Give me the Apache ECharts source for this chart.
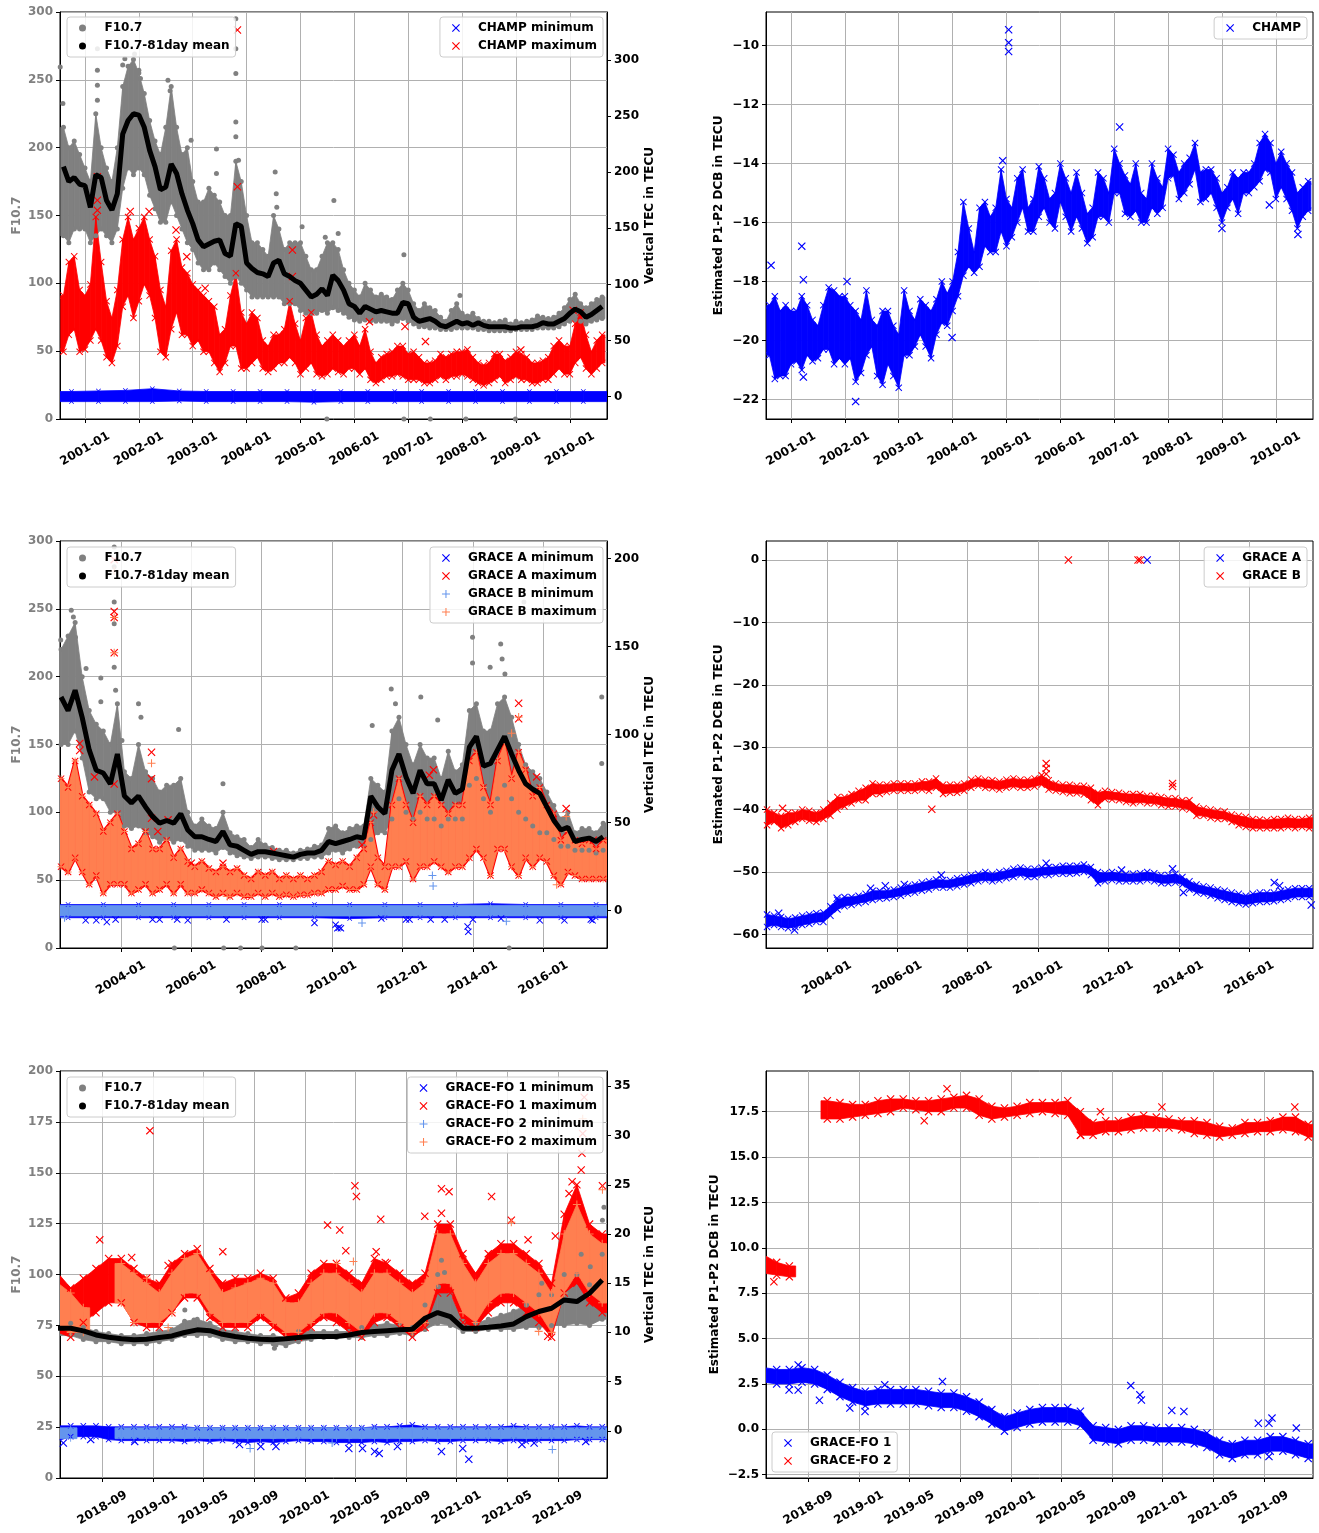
<!DOCTYPE html>
<html>
<head>
<meta charset="utf-8">
<script src="https://cdn.jsdelivr.net/npm/echarts@6/dist/echarts.min.js"></script>
<style>html,body{margin:0;padding:0;background:#fff}#c{width:1319px;height:1533px}</style>
</head>
<body>
<div id="c"></div>
<script>
// ---------------- tick labels ----------------
const CHAMP_XLABELS = ['2001-01','2002-01','2003-01','2004-01','2005-01','2006-01','2007-01','2008-01','2009-01','2010-01'];
const GRACE_XLABELS = ['2004-01','2006-01','2008-01','2010-01','2012-01','2014-01','2016-01'];
const FO_XLABELS = ['2018-09','2019-01','2019-05','2019-09','2020-01','2020-05','2020-09','2021-01','2021-05','2021-09'];
const TL_TEC_TICKS = [0,50,100,150,200,250,300];
const ML_TEC_TICKS = [0,50,100,150,200];
const BL_TEC_TICKS = [0,5,10,15,20,25,30,35];
const TR_TICKS = [-22,-20,-18,-16,-14,-12,-10];
const MR_TICKS = [-60,-50,-40,-30,-20,-10,0];
const BR_TICKS = [-2.5,0,2.5,5,7.5,10,12.5,15,17.5];

// ---------------- sampling (decimal years) ----------------
const CH_START = 2000.6, CH_STEP = 0.1;
const CH_MIN_START = 2000.75, CH_MIN_STEP = 0.5;
const GR_START = 2002.3, GR_STEP = 0.2;
const GR_MIN_START = 2002.5, GR_MIN_STEP = 1;
const FO_START = 2018 + 4.5/12, FO_STEP = 1/12;

// ================= CHAMP (top) =================
const CH_F107_LO = [135,130,140,140,
 140,130,135,140,135,130,140,170,185,180,
 185,180,165,155,145,145,160,150,140,130,
 125,115,110,110,115,110,105,100,105,100,
 95,90,90,90,90,90,90,85,85,85,
 80,78,78,78,80,78,82,80,78,75,
 73,72,73,72,72,72,72,70,72,74,
 72,70,68,68,67,67,66,66,66,67,
 67,67,67,66,66,65,65,65,65,65,
 66,66,66,66,67,67,67,67,68,70,
 72,73,72,70,72,73,74];
const CH_F107_HI = [215,200,205,195,
 185,175,225,200,185,175,200,245,260,265,
 255,240,220,205,195,215,245,215,195,200,
 175,160,160,170,165,160,150,150,190,175,
 150,130,130,125,120,150,140,125,130,130,
 130,120,110,110,120,130,130,125,110,100,
 95,90,100,95,90,92,90,88,95,100,
 95,85,80,85,82,80,75,72,80,85,
 78,76,78,74,72,72,71,72,73,70,
 72,71,72,73,76,75,74,75,78,82,
 88,92,85,82,85,88,90];
const CH_MEAN = [186,175,178,173,
 172,156,180,178,161,154,166,210,220,225,
 224,215,198,186,169,171,188,181,166,154,
 144,132,127,129,131,132,122,120,144,142,
 115,111,108,107,105,115,117,107,105,102,
 100,95,90,92,96,91,106,102,95,85,
 83,78,83,81,79,80,79,78,78,86,
 85,75,72,73,74,72,69,68,70,72,
 70,71,69,71,69,68,68,68,68,67,
 67,68,68,68,69,71,70,70,72,74,
 78,81,79,75,77,80,83];
const CH_F107_OUT = [[2000.54,259.5],[2000.59,232.5],[2001.23,273],[2001.23,257],[2001.23,246],[2001.23,235],
 [2001.7,261],[2001.74,265.6],[2001.92,269],[2002.0,257],[2002.03,251],[2002.54,249.7],[2002.58,242],
 [2002.97,205.5],[2003.44,199],[2003.44,181],[2003.8,295],[2003.8,273],[2003.8,254.6],[2003.8,219],
 [2003.8,208],[2003.85,190.8],[2004.53,182],[2004.55,166],[2004.56,156],[2005.03,141.7],[2005.46,134],
 [2005.62,161],[2005.7,136.8],[2006.92,121],[2007.96,91],[2005.49,0],[2006.92,0],[2007.41,0],[2008.07,0],[2008.99,0]];
const CH_MAX_LO = [40,55,60,40,
 42,50,60,50,35,30,45,80,90,70,
 85,100,90,70,40,35,60,75,55,55,
 45,50,40,40,30,22,30,45,45,25,
 25,30,35,25,22,25,30,30,35,30,
 20,25,30,20,18,20,25,22,20,25,
 25,20,25,15,12,15,18,18,20,18,
 15,15,15,12,12,15,18,15,18,18,
 20,18,15,12,10,12,15,18,12,15,
 18,15,15,12,12,15,15,20,25,20,
 20,30,35,25,20,25,30];
const CH_MAX_HI = [90,120,125,95,
 90,100,160,120,85,70,95,140,160,140,
 150,160,140,125,95,80,130,140,115,110,
 100,95,90,85,80,55,60,90,110,75,
 65,75,70,50,45,55,55,60,85,65,
 50,70,75,55,45,50,55,50,45,50,
 55,45,60,40,30,35,38,40,45,45,
 38,40,35,30,30,32,38,35,38,40,
 40,42,35,30,28,30,38,38,32,35,
 40,38,35,30,30,32,35,45,50,45,
 45,65,75,55,40,50,55];
const CH_MAX_OUT = [[2001.23,196],[2001.23,175],[2001.23,166],[2003.83,326.7],[2003.83,187],[2004.85,130.7],
 [2004.85,107],[2006.28,66.8],[2006.94,62.4],[2007.32,49],[2002.19,165],[2001.84,165],[2002.69,148.5],
 [2002.89,124.7],[2003.23,96.5],[2009.09,41.6],[2010.06,77]];
const CH_MIN_LO = [-4.5,-4.5,-4.5,-4.5,-4,-4.5,-4.5,-4.5,-4.5,-5,-4.5,-4.5,-4.5,-4.5,-4.5,-4.5,-4.5,-4.5,-4.5,-4.5,-4.5];
const CH_MIN_HI = [4.5,5,5.5,7,5,4.5,4.5,4.5,4.5,4.5,4.5,4.5,4.5,4.5,4.5,4.5,4.5,4.5,4.5,4.5,4.5];
const CH_DCB_LO = [-20.5,-21.3,-21.2,-21.2,
 -20.8,-20.7,-21,-20.5,-20.7,-20.6,-20.3,-20.3,-20.8,-20.6,
 -20.8,-20.6,-21.4,-21.1,-20.5,-20.2,-21.2,-21.5,-20.8,-21.2,
 -21.6,-20.5,-20.5,-20.2,-19.8,-20.2,-20.6,-19.8,-19.4,-19.5,
 -19,-18.5,-17.8,-17.5,-17.7,-17.5,-16.8,-17,-17,-16.3,
 -16.8,-16.5,-16,-15.5,-16.3,-16.3,-15.8,-15.5,-16,-16.2,
 -15.3,-15.8,-16.3,-15.8,-16.2,-16.7,-16.5,-15.8,-15.8,-16,
 -15,-15,-15.7,-15.8,-15.6,-16,-16,-15.5,-15.7,-15.5,
 -14.5,-14.4,-15.2,-15,-14.7,-14.2,-15.3,-15.2,-15,-15.5,
 -16,-15.5,-15.2,-15.7,-15,-15,-14.8,-14.6,-14.2,-14.3,
 -15.2,-14.8,-15.2,-15.6,-16.2,-15.8,-15.6];
const CH_DCB_HI = [-18.8,-18.5,-19,-18.8,
 -19,-19,-18.5,-18.8,-19.3,-19.5,-18.8,-18.2,-18.3,-18.5,
 -18.5,-18.8,-19,-19.3,-18.3,-19.3,-19.5,-19,-19,-19.5,
 -19.8,-18.3,-19,-19.3,-18.6,-18.8,-19,-18.6,-18,-18.4,
 -18,-17,-15.3,-16.2,-17,-15.5,-15.3,-15.8,-15.5,-14.2,
 -15.2,-15.5,-14.5,-14.2,-15.5,-15.2,-14.1,-14.5,-15.2,-15,
 -14,-14.5,-15,-14.3,-15,-15.7,-15.5,-14.3,-14.5,-15,
 -13.5,-14,-14.4,-14.7,-14,-15,-15.2,-14,-14.5,-14.8,
 -13.5,-13.7,-14.3,-14,-13.8,-13.3,-14.3,-14.2,-14.2,-14.5,
 -15,-14.8,-14.3,-14.5,-14.3,-14.3,-14,-13.3,-13,-13.3,
 -14,-13.6,-14,-14.3,-15,-14.8,-14.6];
const CH_DCB_OUT = [[2000.63,-17.45],[2001.2,-16.8],[2001.23,-17.94],[2001.23,-21.24],[2002.04,-18.0],[2002.2,-22.07],
 [2005.04,-9.46],[2005.04,-9.9],[2005.04,-10.2],[2004.93,-13.9],[2007.1,-12.76],[2009.0,-16.2],[2010.41,-16.4],
 [2003.99,-19.9],[2009.88,-15.4]];

// ================= GRACE (middle) =================
const GR_F107_LO = [150,150,160,140,
 115,110,110,100,100, 90,88,90,85,82, 78,80,78,80,75, 72,72,72,70,74, 70,68,67,66,67,
 67,66,65,65,65, 66,66,67,67,70, 72,70,73,75,75, 80,85,85,95,110, 100,95,100,95,95,
 90,95,95,95,120, 125,110,100,110,120, 110,100,95,90,85, 85,80,75,75,72,
 72,72,70,72];
const GR_F107_HI = [220,230,240,200,
 175,165,160,150,180, 130,125,150,130,125, 115,120,120,125,100, 90,95,90,88,100, 85,82,80,74,80,
 76,74,72,72,70, 72,73,75,76,88, 90,85,88,90,90, 125,120,115,160,170, 150,135,150,140,140,
 125,145,130,135,175, 180,160,160,180,185, 170,150,135,130,125, 115,105,95,100,85,
 88,88,85,92];
const GR_MEAN = [185,175,190,170,
 146,131,129,121,143, 112,107,112,104,97, 92,94,92,99,87, 82,82,80,78.5,86, 76,75,72,69,71,
 71,70,69,68,67, 69,70,70,72,78.5, 77,78.5,80,82,81, 112,104,99,131,143, 126,114,131,121,121,
 109,124,114,117,148, 156,134,136,146,156, 143,131,121,117,114, 104,94,87,89,78.5,
 80,81,78.5,82];
const GR_F107_OUT = [[2002.29,227],[2002.59,249],[2002.65,244],[2002.71,229],[2003.01,206],[2003.43,199],[2003.43,181.5],
 [2003.81,295.6],[2003.81,281],[2003.81,255],[2003.81,239],[2003.81,207],[2003.85,190],[2004.03,153],[2004.5,180],
 [2004.57,170],[2005.64,161],[2006.9,121],[2011.14,164],[2011.68,191],[2011.8,180],[2012.52,185],[2013.0,168],
 [2013.99,229],[2013.99,210],[2014.49,207],[2014.79,224],[2014.83,213],[2014.91,202],[2015.45,255],[2017.66,185],
 [2017.66,136],[2005.52,0],[2006.92,0],[2007.4,0],[2008.01,0],[2008.97,0],[2015.03,0]];
const GR_MAX_LO = [25,22,30,22,
 15,20,10,15,15, 15,10,12,15,10, 12,15,10,15,10, 10,12,10,8,10, 8,10,8,8,10,
 8,10,8,9,8, 9,9,10,10,12, 12,14,12,12,15, 25,15,12,25,25, 28,18,25,25,28,
 25,22,25,25,30, 35,30,20,35,35, 25,20,30,25,30, 28,20,15,22,20,
 18,18,18,18];
const GR_MAX_HI = [75,70,85,65,
 60,55,45,50,55, 45,35,38,45,35, 35,40,30,35,28, 25,28,24,22,25, 22,24,20,18,22,
 20,22,18,20,18, 20,18,20,22,28, 26,28,25,30,35, 50,30,25,60,75, 60,50,65,60,65,
 60,55,60,60,85, 90,70,60,85,95, 75,90,80,65,70, 60,55,40,45,40,
 38,40,35,40];
const GRA_MAX_OUT = [[2003.81,199.4],[2003.81,170],[2003.81,166.5],[2003.81,146.5],[2002.83,95],[2002.83,91],
 [2003.25,76],[2003.81,72],[2004.87,90],[2004.87,75],[2004.87,52.5],[2005.34,51.6],[2005.05,45],[2006.0,27],
 [2006.9,27],[2008.34,33.6],[2011.18,54.4],[2012.76,77],[2012.88,80],[2015.3,117.8],[2015.3,109],[2015.81,76],
 [2016.65,58],[2017.42,40],[2010.85,37.4]];
const GRB_MAX_OUT = [[2003.81,193],[2003.81,166.5],[2003.81,146.5],[2004.87,83.7],[2011.18,56],[2015.3,110],
 [2015.1,100.8],[2016.65,53.5],[2016.38,14.7],[2007.02,8],[2015.39,70.5]];
const GRA_MIN_LO = [-4,-4,-4,-4,-4,-4,-4,-4,-4.5,-4,-4,-4,-4,-4,-4,-4];
const GRA_MIN_HI = [3.5,3.5,3.5,3.5,3.5,3.5,3.5,3.5,3.5,3.5,3.5,3.5,4,3.5,3.5,3.5];
const GRB_MIN_LO = [-3,-3,-3,-3,-3,-3,-3,-3,-3,-3,-3,-3,-3,-3,-3,-3];
const GRB_MIN_HI = [3,3,3,3,3,3,3,3,3,3,3,3,3,3,3,3];
const GRA_MIN_OUT = [[2003.0,-5.5],[2003.3,-5.5],[2003.6,-6.5],[2003.85,-5],[2004.9,-5],[2005.1,-5],[2005.6,-5],
 [2005.9,-5.5],[2007.0,-5],[2008.0,-5],[2008.1,-5],[2009.5,-7],[2010.1,-8],[2010.15,-10],[2010.2,-9.5],[2010.25,-10],
 [2011.4,-4.5],[2012.1,-5],[2012.2,-5],[2012.8,-5],[2013.2,-5],[2013.85,-9],[2013.87,-12],[2014.0,-5],[2014.8,-4.5],
 [2015.9,-5.5],[2016.6,-5.5],[2017.4,-5.5],[2017.35,-5]];
const GRB_MIN_OUT = [[2010.85,-7],[2012.85,20],[2012.87,14],[2014.95,-6],[2002.4,-4]];
const GRA_DCB_LO = [-58.8,-58.5,-58.8,-59,
 -58.8,-58.5,-58.3,-58,-58, -57,-56,-55.5,-55.3,-55, -54.8,-54.5,-54.3,-54.2,-54, -53.8,-53.5,-53.3,-53,-52.8,
 -52.5,-52.5,-52.5,-52.3,-52, -51.8,-51.5,-51.3,-51.5,-51.3, -51,-50.8,-50.5,-50.8,-50.8, -50.5,-50.5,-50.3,-50.3,-50.3,
 -50.2,-50,-50.5,-51.8,-51.5, -51.3,-51.5,-51.5,-51.5,-51.5, -51.3,-51.5,-51.8,-51.8,-51.7, -52,-52.8,-53.3,-53.5,-53.8,
 -54.2,-54.5,-54.8,-55,-55.2, -55,-54.8,-54.8,-54.7,-54.5, -54.3,-54,-54,-54];
const GRA_DCB_HI = [-56.8,-57,-57.2,-57.5,
 -57.3,-57,-56.8,-56.6,-56.5, -55.5,-54.5,-54,-54,-53.8, -53.5,-53,-53,-53,-52.8, -52.5,-52.2,-52,-51.7,-51.5,
 -51.2,-51.3,-51.3,-51,-50.8, -50.5,-50.3,-50,-50.3,-50, -49.8,-49.5,-49.3,-49.5,-49.5, -49.3,-49.2,-49.2,-49,-49,
 -49,-48.8,-49.2,-50,-50.2, -50,-50.2,-50.3,-50.3,-50.2, -50,-50.2,-50.5,-50.5,-50.3, -50.8,-51.5,-52,-52.3,-52.5,
 -52.8,-53,-53.3,-53.5,-53.8, -53.5,-53.3,-53.3,-53.3,-53, -52.8,-52.6,-52.6,-52.6];
const GRB_DCB_LO = [-42.5,-42,-43,-42.5,
 -42,-41.5,-41.8,-42,-41.5, -41,-40,-39.5,-39,-38.5, -38.5,-37.5,-37.5,-37.2,-37, -37,-37,-37,-36.8,-37,
 -36.5,-37.5,-37.3,-37.3,-37, -36.5,-36.2,-36.5,-36.6,-36.8, -36.5,-36.3,-36.5,-36.5,-36.3, -36,-36.8,-37,-37.2,-37.4,
 -37.4,-37.6,-38.5,-39.3,-38.3, -38.4,-38.5,-38.8,-39,-38.8, -39,-39,-39.3,-39.5,-39.5, -39.8,-40,-41,-41,-41.3,
 -41.5,-41.5,-42,-42.5,-42.8, -43,-43,-43,-43,-43, -42.8,-43,-42.8,-43];
const GRB_DCB_HI = [-40,-40.5,-41,-40.5,
 -40.5,-40,-40.2,-40.5,-40, -39,-38,-38,-37.5,-37, -36.5,-35.8,-36,-36,-35.8, -35.8,-35.8,-35.8,-35.5,-35.5,
 -35,-36,-36,-36,-35.8, -35.2,-35,-35.2,-35.3,-35.5, -35.2,-35,-35.2,-35.2,-35, -34.5,-35.3,-35.8,-36,-36,
 -36.2,-36.2,-36.5,-37.3,-37, -37.2,-37.3,-37.5,-37.5,-37.5, -37.8,-37.8,-38,-38.2,-38.2, -38.5,-38.5,-39.5,-39.8,-40,
 -40.2,-40.3,-40.8,-41,-41.2, -41.5,-41.6,-41.7,-41.5,-41.5, -41.3,-41.5,-41.5,-41.3];
const GRA_DCB_OUT = [[2013.1,0],[2004.29,-54.2],[2005.24,-52.6],[2005.66,-52.2],[2006.2,-52],[2007.25,-50.5],[2010.23,-48.6],
 [2012.37,-49.7],[2013.82,-49.5],[2016.71,-51.7],[2016.86,-52.2],[2003.08,-59.3],[2002.63,-56.6],[2014.13,-53.3],[2017.76,-55.3]];
const GRB_DCB_OUT = [[2010.86,0],[2012.84,0],[2012.9,0],[2006.98,-39.95],[2010.23,-32.6],[2010.23,-33.4],[2010.23,-34.3],
 [2013.82,-35.8],[2013.82,-36.3],[2002.74,-39.8]];

// ================= GRACE-FO (bottom) =================
const FO_F107_LO = [70,70,68,67,67,66,66,66,
 67,68,70,70,70,68,67,67,66,66,65,67,
 68,69,69,69,69,70,70,71,70,73,76,75,
 72,72,73,73,73,74,74,75,75,76,75,78];
const FO_F107_HI = [78,76,74,72,71,70,70,71,
 72,73,77,78,76,73,72,71,70,70,69,72,
 72,72,72,72,74,75,76,75,74,85,100,90,
 77,76,78,80,82,85,90,90,100,100,95,110];
const FO_MEAN = [73.6,73.6,72.3,70.3,69.2,68.4,67.9,68.2,
 69,69.8,71.5,72.8,72.4,70.6,69.5,68.7,68.2,67.9,68.4,69,
 69.5,69.5,69.5,70.3,71.5,72,72.4,72.8,73.1,78.5,81.3,79.3,
 73.6,73.6,74.1,74.7,75.7,79.3,81.8,83.4,87.5,86.7,90.8,97.3];
const FO_F107_OUT = [[2019.21,82.6],[2019.27,77.7],[2020.9,107],[2020.92,101],[2020.88,94],[2021.46,85],[2021.56,95.7],
 [2021.82,110],[2021.97,133],[2021.96,126.7],[2019.8,63.8],[2019.81,65.4],[2021.88,103.8],[2021.74,87.5]];
const FO1_MAX_LO = [10,9.5,11,12,13,13,11,10.5,
 10.5,12,13.5,13.5,11.5,10.5,10.5,10.5,11.5,10.5,9.5,9.5,
 10.5,11.5,11,10,9.5,11,11.5,10.5,9.5,10.5,14,14,
 11,10.5,12,13,13,12,11,9.5,14,15,13,12];
const FO1_MAX_HI = [16,14.5,15.5,16.5,17.5,17.5,16.5,15.5,
 15,17,18,18.5,16.5,15,15.5,15.5,16,15.5,13.5,14,
 16,17,17,16,15,17.5,17,16,15,16,21,21,
 18,16,18,19,19,18,17,15,22,25,21,20];
const FO2_MAX_LO = [10.5,10,10,null,null,13,11,11,
 11,12,14,14,12,11,11,11,12,11,10,10,
 11,12,12,11,10,12,12,11,10,11,15,15,
 12,11,13,14,14,13,12,10,14,16,14,13];
const FO2_MAX_HI = [15,14,12.5,null,null,17,16,15,
 14,16,17.5,18,16,14,14.5,15,15.5,15,13,13,
 15,16,16,15,14,16,16,15,14,15,20,20,
 17,15,17,18,18,17,16,14,20,23,20,19];
const FO1_MAX_OUT = [[2018.65,19.4],[2018.98,30.5],[2019.46,18.2],[2020.15,20.9],[2020.23,20.4],[2020.27,18.3],[2020.33,24.9],
 [2020.34,23.8],[2020.47,18.2],[2020.5,21.5],[2020.53,17.1],[2020.79,21.8],[2020.9,24.6],[2020.95,24.3],[2020.9,22.1],
 [2021.23,23.8],[2021.36,21.4],[2021.47,19.4],[2021.65,19.8],[2021.6,9.6],[2021.74,24.1],[2021.76,25.3],[2021.825,28.2],
 [2021.83,30.2],[2021.84,33.9],[2021.82,26.5],[2021.96,24.9],[2018.86,17.6],[2019.1,16.8]];
const FO2_MAX_OUT = [[2020.32,17.2],[2020.21,17],[2020.04,11.2],[2019.1,10.5],[2021.83,31.7],[2021.96,24.5],[2021.36,21.2],
 [2021.54,10.1],[2018.96,15.5]];
const FO1_MIN_LO = [-1.0,-0.6,-0.6,-0.6,-0.9,-1.0,-1.0,-1.0,
 -1.0,-1.0,-1.1,-1.0,-1.1,-1.0,-1.1,-1.2,-1.1,-1.2,-1.1,-1.0,
 -1.1,-1.1,-1.2,-1.2,-1.2,-1.1,-1.2,-1.1,-1.1,-1.0,-1.1,-1.1,
 -1.0,-1.0,-1.0,-1.1,-1.0,-1.1,-1.0,-1.0,-1.0,-0.9,-0.9,-0.9];
const FO1_MIN_HI = [0.5,0.5,0.5,0.5,0.4,0.4,0.4,0.4,
 0.4,0.4,0.4,0.3,0.3,0.3,0.3,0.3,0.3,0.3,0.3,0.3,
 0.3,0.3,0.3,0.3,0.3,0.4,0.4,0.5,0.6,0.4,0.4,0.4,
 0.4,0.4,0.4,0.4,0.5,0.4,0.4,0.4,0.4,0.5,0.4,0.4];
const FO2_MIN_LO = [-0.8,-0.8,null,null,null,-0.8,-0.8,-0.8,
 -0.8,-0.8,-0.8,-0.8,-0.8,-0.8,-0.8,-0.8,-0.8,-0.8,-0.8,-0.8,
 -0.8,-0.8,-0.8,-0.8,-0.8,-0.8,-0.8,-0.8,-0.8,-0.8,-0.8,-0.8,
 -0.8,-0.8,-0.8,-0.8,-0.8,-0.8,-0.8,-0.8,-0.8,-0.8,-0.8,-0.8];
const FO2_MIN_HI = [0.3,0.3,null,null,null,0.3,0.3,0.3,
 0.3,0.3,0.3,0.3,0.3,0.3,0.3,0.3,0.3,0.3,0.3,0.3,
 0.3,0.3,0.3,0.3,0.3,0.3,0.3,0.3,0.3,0.3,0.3,0.3,
 0.3,0.3,0.3,0.3,0.3,0.3,0.3,0.3,0.3,0.3,0.3,0.3];
const FO1_MIN_OUT = [[2021.08,-2.9],[2020.49,-2.3],[2020.29,-1.8],[2020.9,-2.1],[2021.04,-1.8],[2019.57,-1.4],[2018.88,-1.1],
 [2019.71,-1.6],[2019.81,-1.6],[2020.38,-1.8],[2020.46,-2.1],[2020.61,-1.6],[2021.43,-1.4],[2021.51,-1.25],[2021.85,-1.1],
 [2018.41,-1.25],[2018.59,-0.9]];
const FO2_MIN_OUT = [[2019.64,-1.8],[2020.18,-1.25],[2021.63,-1.9]];
const FO1_DCB_LO = [2.6,2.5,2.5,2.6,2.5,2.2,1.8,1.5,
 1.3,1.4,1.4,1.4,1.4,1.3,1.2,1.2,1.0,0.7,0.3,-0.1,
 0.1,0.3,0.4,0.4,0.4,0.2,-0.6,-0.7,-0.8,-0.6,-0.6,-0.7,
 -0.7,-0.7,-0.8,-1.0,-1.4,-1.6,-1.4,-1.4,-1.2,-1.2,-1.4,-1.6];
const FO1_DCB_HI = [3.4,3.3,3.3,3.4,3.3,3.0,2.6,2.3,
 2.1,2.2,2.2,2.2,2.2,2.1,2.0,2.0,1.8,1.5,1.1,0.7,
 0.9,1.1,1.2,1.2,1.2,1.0,0.2,0.1,0.0,0.2,0.2,0.1,
 0.1,0.1,0.0,-0.2,-0.6,-0.8,-0.6,-0.6,-0.4,-0.4,-0.6,-0.8];
const FO2_DCB_LO = [8.6,8.5,8.4,null,null,17.1,17.1,17.2,
 17.3,17.4,17.5,17.7,17.6,17.5,17.5,17.7,17.7,17.3,17.1,17.2,
 17.3,17.4,17.5,17.4,17.3,16.2,16.2,16.4,16.4,16.5,16.6,16.6,
 16.6,16.5,16.3,16.2,16.1,16.2,16.3,16.4,16.4,16.5,16.4,16.1];
const FO2_DCB_HI = [9.6,9.2,9.0,null,null,18.1,18.0,17.9,
 17.9,18.1,18.2,18.2,18.1,18.1,18.2,18.3,18.4,18.2,17.8,17.7,
 17.8,18.0,18.0,18.0,18.1,17.5,16.9,17.0,17.0,17.2,17.3,17.2,
 17.1,17.0,17.0,16.9,16.7,16.6,16.9,16.9,17.0,17.2,17.2,16.8];
const FO1_DCB_OUT = [[2020.79,2.41],[2020.85,1.9],[2020.86,1.62],[2019.55,2.63],[2019.17,2.45],[2019.04,0.98],[2018.54,2.17],
 [2018.6,2.17],[2018.6,3.55],[2021.63,0.34],[2021.72,0.62],[2021.7,0.34],[2021.88,0.07],[2021.14,0.98],[2021.06,1.04],
 [2021.7,-1.5],[2018.74,1.6],[2018.94,1.17]];
const FO2_DCB_OUT = [[2019.58,18.76],[2019.43,17.0],[2020.995,17.76],[2020.59,17.5],[2021.87,17.76],[2018.44,8.13],[2020.46,16.2]];

// ---------------- helpers ----------------
const FONT = 'DejaVu Sans';
const TXT = {fontFamily: FONT, fontWeight: 'bold', fontSize: 12, color: '#000'};
const XP = 'path://M1,0L5,4L9,0L10,1L6,5L10,9L9,10L5,6L1,10L0,9L4,5L0,1Z';
const PP = 'path://M4.35,0H5.65V4.35H10V5.65H5.65V10H4.35V5.65H0V4.35H4.35Z';
const GRAY = '#808080', BLUE = '#0000ff', RED = '#ff0000', CFB = '#6495ed', CORAL = '#ff7f50';

function ym(s) { const [y, m] = s.split('-').map(Number); return y + (m - 1) / 12; }
function bandData(start, step, lo, hi) {
  const out = [];
  lo.forEach((l, i) => { if (l != null && hi[i] != null) out.push([start + i * step, l, hi[i]]); });
  return out;
}
function envData(band) { const out = []; band.forEach(d => { out.push([d[0], d[1]]); out.push([d[0], d[2]]); }); return out; }
function lineData(start, step, vals) { return vals.map((v, i) => [start + i * step, v]); }
function num(v, dec) {
  const s = dec ? Math.abs(v).toFixed(dec) : String(Math.abs(Math.round(v * 1000) / 1000));
  return (v < -1e-9 ? '\u2212' : '') + s;
}

// band drawn as polygons between consecutive samples (half-step caps at the ends)
function bandSeries(name, ai, yi, data, step, color, edge) {
  return {
    type: 'custom', name, xAxisIndex: ai, yAxisIndex: yi, data, clip: true, silent: true,
    encode: {x: 0, y: [1, 2]}, itemStyle: {color},
    renderItem(params, api) {
      const i = params.dataIndexInside, n = params.dataInsideLength;
      const x0 = api.value(0), lo0 = api.value(1), hi0 = api.value(2);
      const near = (a, b) => Math.abs(Math.abs(a - b) - step) < step * 0.05;
      const hasNext = i + 1 < n && near(api.value(0, i + 1), x0);
      const hasPrev = i > 0 && near(api.value(0, i - 1), x0);
      const st = {fill: color, stroke: color, lineWidth: edge || 0.8, lineJoin: 'round'};
      const kids = [];
      if (hasNext) {
        const x1 = api.value(0, i + 1), lo1 = api.value(1, i + 1), hi1 = api.value(2, i + 1);
        kids.push({type: 'polygon', shape: {points: [api.coord([x0, hi0]), api.coord([x1, hi1]), api.coord([x1, lo1]), api.coord([x0, lo0])]}, style: st});
      }
      const capL = hasPrev ? x0 : x0 - step / 2, capR = hasNext ? x0 : x0 + step / 2;
      if (capR > capL) {
        const a = api.coord([capL, hi0]), b = api.coord([capR, lo0]);
        kids.push({type: 'rect', shape: {x: a[0], y: a[1], width: b[0] - a[0], height: b[1] - a[1]}, style: st});
      }
      return {type: 'group', children: kids};
    }
  };
}
function ptSeries(name, ai, yi, data, symbol, size, color) {
  return {type: 'scatter', name, xAxisIndex: ai, yAxisIndex: yi, data, symbol, symbolSize: size,
    itemStyle: {color, opacity: 1}, silent: true, animation: false, large: false};
}
function cloud(name, ai, yi, start, step, lo, hi, color, symbol, size, edge) {
  const d = bandData(start, step, lo, hi);
  return [bandSeries(name, ai, yi, d, step, color, edge), ptSeries(name, ai, yi, envData(d), symbol, size, color)];
}
function meanSeries(ai, yi, data) {
  return {type: 'line', name: 'F10.7-81day mean', xAxisIndex: ai, yAxisIndex: yi, data, symbol: 'none',
    lineStyle: {color: '#000', width: 5}, itemStyle: {color: '#000'}, silent: true};
}

function xAx(gi, min, max, labels) {
  const vals = labels.map(ym);
  const fmt = v => { const i = vals.findIndex(t => Math.abs(t - v) < 1e-6); return i >= 0 ? labels[i] : ''; };
  return {type: 'value', gridIndex: gi, min, max,
    axisLine: {show: true, onZero: false, lineStyle: {color: '#000', width: 1}},
    axisTick: {show: true, length: 4, customValues: vals, lineStyle: {color: '#000', width: 1}},
    axisLabel: Object.assign({customValues: vals, formatter: fmt, rotate: 30, align: 'center',
      verticalAlign: 'middle', margin: 30, hideOverlap: false}, TXT),
    splitLine: {show: true, lineStyle: {color: '#b0b0b0', width: 1}}};
}
function yAx(gi, pos, min, max, o) {
  const ax = {type: 'value', gridIndex: gi, position: pos, min, max,
    axisLine: {show: true, onZero: false, lineStyle: {color: '#000', width: 1}},
    axisTick: {show: true, length: 4, lineStyle: {color: '#000', width: 1}},
    axisLabel: Object.assign({margin: 7, hideOverlap: false, formatter: v => num(v, o.dec)}, TXT, {color: o.labelColor || '#000'}),
    splitLine: {show: o.grid !== false, lineStyle: {color: '#b0b0b0', width: 1}},
    name: o.name, nameLocation: 'middle', nameGap: o.gap, nameRotate: 90,
    nameTextStyle: Object.assign({}, TXT, {color: o.nameColor || '#000'})};
  if (o.ticks) { ax.axisTick.customValues = o.ticks; ax.axisLabel.customValues = o.ticks; }
  if (o.interval) ax.interval = o.interval;
  return ax;
}
function mkLegend(pos, items, ih) {
  return Object.assign({
    orient: 'vertical', selectedMode: false, itemWidth: 18, itemHeight: ih || 8, itemGap: 4,
    padding: [4, 6, 4, 12], backgroundColor: 'rgba(255,255,255,0.85)', borderColor: '#cccccc', borderWidth: 1, borderRadius: 3,
    textStyle: Object.assign({}, TXT, {lineHeight: 14, rich: {p: {width: 8}}}),
    formatter: name => '{p| }' + name,
    lineStyle: {opacity: 0},
    data: items.map(([name, icon, color]) => ({name, icon, itemStyle: {color, borderWidth: 0}}))
  }, pos);
}

const W = 547, H = 407;
const grid = [
  {left: 60, top: 12}, {left: 766, top: 12},
  {left: 60, top: 541}, {left: 766, top: 541},
  {left: 60, top: 1071}, {left: 766, top: 1071}
].map(g => Object.assign(g, {width: W, height: H, show: true, borderColor: '#000', borderWidth: 1,
  backgroundColor: 'transparent', containLabel: false, outerBoundsMode: 'none'}));

const CH_MIN = 2000.536, CH_MAX = 2010.69;
const GR_MIN = 2002.27, GR_MAX = 2017.81;
const FO_MIN = 2018.388, FO_MAX = 2021.99;

const xAxis = [
  xAx(0, CH_MIN, CH_MAX, CHAMP_XLABELS), xAx(1, CH_MIN, CH_MAX, CHAMP_XLABELS),
  xAx(2, GR_MIN, GR_MAX, GRACE_XLABELS), xAx(3, GR_MIN, GR_MAX, GRACE_XLABELS),
  xAx(4, FO_MIN, FO_MAX, FO_XLABELS), xAx(5, FO_MIN, FO_MAX, FO_XLABELS)
];
const F107 = {name: 'F10.7', gap: 37, labelColor: GRAY, nameColor: GRAY};
const TEC = {name: 'Vertical TEC in TECU', gap: 37, grid: false};
const DCB = {name: 'Estimated P1-P2 DCB in TECU', gap: 41};
const yAxis = [
  yAx(0, 'left', 0, 300, Object.assign({interval: 50}, F107)),
  yAx(0, 'right', -20, 342.8, Object.assign({ticks: TL_TEC_TICKS}, TEC)),
  yAx(1, 'left', -22.66, -8.86, Object.assign({ticks: TR_TICKS}, DCB)),
  yAx(2, 'left', 0, 300, Object.assign({interval: 50}, F107)),
  yAx(2, 'right', -21.2, 210, Object.assign({ticks: ML_TEC_TICKS}, TEC)),
  yAx(3, 'left', -62.18, 3.04, Object.assign({ticks: MR_TICKS}, DCB)),
  yAx(4, 'left', 0, 200, Object.assign({interval: 25}, F107)),
  yAx(4, 'right', -4.8, 36.56, Object.assign({ticks: BL_TEC_TICKS}, TEC)),
  yAx(5, 'left', -2.68, 19.74, Object.assign({ticks: BR_TICKS, dec: 1}, DCB, {gap: 45}))
];

const series = [
  // ---- CHAMP TEC / F10.7 ----
  ...cloud('F10.7', 0, 0, CH_START, CH_STEP, CH_F107_LO, CH_F107_HI, GRAY, 'circle', 5),
  ptSeries('F10.7', 0, 0, CH_F107_OUT, 'circle', 5, GRAY),
  meanSeries(0, 0, lineData(CH_START, CH_STEP, CH_MEAN)),
  ...cloud('CHAMP minimum', 0, 1, CH_MIN_START, CH_MIN_STEP, CH_MIN_LO, CH_MIN_HI, BLUE, XP, 5),
  ...cloud('CHAMP maximum', 0, 1, CH_START, CH_STEP, CH_MAX_LO, CH_MAX_HI, RED, XP, 7),
  ptSeries('CHAMP maximum', 0, 1, CH_MAX_OUT, XP, 8, RED),
  // ---- CHAMP DCB ----
  ...cloud('CHAMP', 1, 2, CH_START, CH_STEP, CH_DCB_LO, CH_DCB_HI, BLUE, XP, 7),
  ptSeries('CHAMP', 1, 2, CH_DCB_OUT, XP, 8, BLUE),
  // ---- GRACE TEC / F10.7 ----
  ...cloud('F10.7', 2, 3, GR_START, GR_STEP, GR_F107_LO, GR_F107_HI, GRAY, 'circle', 5),
  ptSeries('F10.7', 2, 3, GR_F107_OUT, 'circle', 5, GRAY),
  meanSeries(2, 3, lineData(GR_START, GR_STEP, GR_MEAN)),
  ...cloud('GRACE A minimum', 2, 4, GR_MIN_START, GR_MIN_STEP, GRA_MIN_LO, GRA_MIN_HI, BLUE, XP, 5),
  ptSeries('GRACE A minimum', 2, 4, GRA_MIN_OUT, XP, 7, BLUE),
  ...cloud('GRACE A maximum', 2, 4, GR_START, GR_STEP, GR_MAX_LO, GR_MAX_HI, RED, XP, 7, 3),
  ptSeries('GRACE A maximum', 2, 4, GRA_MAX_OUT, XP, 8, RED),
  ...cloud('GRACE B minimum', 2, 4, GR_MIN_START, GR_MIN_STEP, GRB_MIN_LO, GRB_MIN_HI, CFB, PP, 5),
  ptSeries('GRACE B minimum', 2, 4, GRB_MIN_OUT, PP, 8, CFB),
  ...cloud('GRACE B maximum', 2, 4, GR_START, GR_STEP, GR_MAX_LO, GR_MAX_HI, CORAL, PP, 7),
  ptSeries('GRACE B maximum', 2, 4, GRB_MAX_OUT, PP, 8, CORAL),
  // ---- GRACE DCB ----
  ...cloud('GRACE A', 3, 5, GR_START, GR_STEP, GRA_DCB_LO, GRA_DCB_HI, BLUE, XP, 7),
  ptSeries('GRACE A', 3, 5, GRA_DCB_OUT, XP, 8, BLUE),
  ...cloud('GRACE B', 3, 5, GR_START, GR_STEP, GRB_DCB_LO, GRB_DCB_HI, RED, XP, 7),
  ptSeries('GRACE B', 3, 5, GRB_DCB_OUT, XP, 8, RED),
  // ---- GRACE-FO TEC / F10.7 ----
  ...cloud('F10.7', 4, 6, FO_START, FO_STEP, FO_F107_LO, FO_F107_HI, GRAY, 'circle', 5),
  ptSeries('F10.7', 4, 6, FO_F107_OUT, 'circle', 5, GRAY),
  meanSeries(4, 6, lineData(FO_START, FO_STEP, FO_MEAN)),
  ...cloud('GRACE-FO 1 minimum', 4, 7, FO_START, FO_STEP, FO1_MIN_LO, FO1_MIN_HI, BLUE, XP, 6),
  ptSeries('GRACE-FO 1 minimum', 4, 7, FO1_MIN_OUT, XP, 8, BLUE),
  ...cloud('GRACE-FO 1 maximum', 4, 7, FO_START, FO_STEP, FO1_MAX_LO, FO1_MAX_HI, RED, XP, 8),
  ptSeries('GRACE-FO 1 maximum', 4, 7, FO1_MAX_OUT, XP, 8, RED),
  ...cloud('GRACE-FO 2 minimum', 4, 7, FO_START, FO_STEP, FO2_MIN_LO, FO2_MIN_HI, CFB, PP, 6),
  ptSeries('GRACE-FO 2 minimum', 4, 7, FO2_MIN_OUT, PP, 8, CFB),
  ...cloud('GRACE-FO 2 maximum', 4, 7, FO_START, FO_STEP, FO2_MAX_LO, FO2_MAX_HI, CORAL, PP, 8),
  ptSeries('GRACE-FO 2 maximum', 4, 7, FO2_MAX_OUT, PP, 8, CORAL),
  // ---- GRACE-FO DCB ----
  ...cloud('GRACE-FO 1', 5, 8, FO_START, FO_STEP, FO1_DCB_LO, FO1_DCB_HI, BLUE, XP, 8),
  ptSeries('GRACE-FO 1', 5, 8, FO1_DCB_OUT, XP, 8, BLUE),
  ...cloud('GRACE-FO 2', 5, 8, FO_START, FO_STEP, FO2_DCB_LO, FO2_DCB_HI, RED, XP, 8),
  ptSeries('GRACE-FO 2', 5, 8, FO2_DCB_OUT, XP, 8, RED)
];

const F107_ITEMS = [['F10.7', 'circle', GRAY], ['F10.7-81day mean', 'circle', '#000']];
const legend = [
  mkLegend({left: 67, top: 17}, F107_ITEMS, 7),
  mkLegend({right: 716, top: 17}, [['CHAMP minimum', XP, BLUE], ['CHAMP maximum', XP, RED]]),
  mkLegend({right: 12, top: 17}, [['CHAMP', XP, BLUE]]),
  mkLegend({left: 67, top: 547}, F107_ITEMS, 7),
  mkLegend({right: 716, top: 547}, [['GRACE A minimum', XP, BLUE], ['GRACE A maximum', XP, RED],
    ['GRACE B minimum', PP, CFB], ['GRACE B maximum', PP, CORAL]]),
  mkLegend({right: 12, top: 547}, [['GRACE A', XP, BLUE], ['GRACE B', XP, RED]]),
  mkLegend({left: 67, top: 1077}, F107_ITEMS, 7),
  mkLegend({right: 716, top: 1077}, [['GRACE-FO 1 minimum', XP, BLUE], ['GRACE-FO 1 maximum', XP, RED],
    ['GRACE-FO 2 minimum', PP, CFB], ['GRACE-FO 2 maximum', PP, CORAL]]),
  mkLegend({left: 772, top: 1432}, [['GRACE-FO 1', XP, BLUE], ['GRACE-FO 2', XP, RED]])
];

const chart = echarts.init(document.getElementById('c'), null, {renderer: 'canvas'});
chart.setOption({animation: false, backgroundColor: '#fff', grid, xAxis, yAxis, legend, series, tooltip: {show: false}});
</script>
</body>
</html>
